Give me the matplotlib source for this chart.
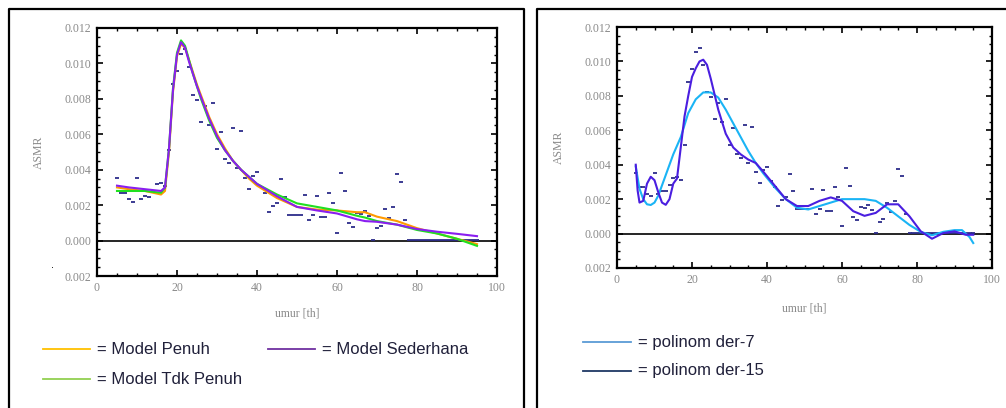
import matplotlib
matplotlib.use("Agg")
import matplotlib.pyplot as plt
from matplotlib.lines import Line2D
from matplotlib.ticker import MultipleLocator, FixedLocator

# data titik ASMR (umur 5..95)
umur = list(range(5, 96))
asmr = [0.00354, 0.0027, 0.0027, 0.00232, 0.00219, 0.00354, 0.00232, 0.0025, 0.00247, 0.00281,
        0.00322, 0.00326, 0.0031, 0.00514, 0.00882, 0.00956, 0.01055, 0.0108, 0.0098, 0.0082,
        0.00792, 0.00668, 0.00758, 0.0065, 0.00779, 0.00516, 0.00614, 0.00461, 0.0044, 0.00633,
        0.00409, 0.00617, 0.00356, 0.00292, 0.00367, 0.00388, 0.00304, 0.0027, 0.00163, 0.00195,
        0.0021, 0.00347, 0.00247, 0.00142, 0.00142, 0.00142, 0.00142, 0.0026, 0.00116, 0.00142,
        0.00254, 0.00134, 0.00134, 0.0027, 0.00211, 0.00044, 0.00382, 0.00279, 0.00097, 0.00078,
        0.00153, 0.0015, 0.00168, 0.00138, 0.00003, 0.0007, 0.00082, 0.00176, 0.00127, 0.00187,
        0.00373, 0.00332, 0.00116, 0.00002, 0.00002, 0.00002, 0.00002, 0.00002, 0.00002, 0.00002,
        0.00002, 0.00002, 0.00002, 0.00002, 0.00002, 0.00002, 0.00002, 0.00002, 0.00002, 0.00002,
        0.00002]

# model (panel kiri)
umur_model = [5, 8, 12, 16, 17, 18, 19, 20, 21, 22, 23, 24, 25, 26, 27, 28, 29, 30, 32, 34,
              36, 38, 40, 45, 50, 55, 60, 65, 67, 70, 75, 80, 85, 90, 95]
model_penuh = [0.0030, 0.0029, 0.0028, 0.0026, 0.0028, 0.0050, 0.0084, 0.0104, 0.0111, 0.0109,
               0.0102, 0.0095, 0.0088, 0.0082, 0.0076, 0.0070, 0.0065, 0.0060, 0.0052, 0.0045,
               0.0040, 0.0035, 0.0031, 0.0024, 0.0019, 0.00175, 0.0017, 0.0016, 0.0016, 0.00135,
               0.0011, 0.0007, 0.0004, 0.0001, -0.0002]
model_tdk_penuh = [0.0028, 0.0028, 0.0028, 0.0027, 0.0030, 0.0052, 0.0086, 0.0106, 0.0113, 0.0110,
                   0.0102, 0.0094, 0.0087, 0.0080, 0.0074, 0.0068, 0.0063, 0.0058, 0.0051, 0.0045,
                   0.0040, 0.0036, 0.0032, 0.0026, 0.0021, 0.0019, 0.0017, 0.0014, 0.0013, 0.0011,
                   0.0009, 0.0006, 0.0004, 0.0001, -0.0003]
model_sederhana = [0.0031, 0.0030, 0.0029, 0.0028, 0.0030, 0.0052, 0.0085, 0.0105, 0.0112, 0.0109,
                   0.0101, 0.0094, 0.0087, 0.0081, 0.0075, 0.0069, 0.0064, 0.0059, 0.0051, 0.0045,
                   0.0040, 0.0036, 0.0032, 0.0025, 0.0019, 0.0017, 0.00153, 0.0012, 0.0011, 0.00106,
                   0.0009, 0.00065, 0.0005, 0.00038, 0.00025]

# polinom (panel kanan)
umur_p15 = [5, 5.5, 6, 7, 8, 9, 10, 11, 12, 13, 14, 15, 16, 17, 18, 19, 20, 21, 22, 23, 24, 25,
            27, 29, 31, 33, 35, 37, 39, 42, 45, 48, 51, 54, 57, 60, 63, 66, 69, 72, 75, 78, 81,
            84, 87, 90, 93, 95]
polinom15 = [0.0040, 0.0025, 0.0018, 0.0019, 0.0029, 0.0033, 0.0031, 0.0024, 0.0018, 0.00167,
             0.0020, 0.0029, 0.0032, 0.0050, 0.0068, 0.0080, 0.0091, 0.0096, 0.0100, 0.0101,
             0.0098, 0.0090, 0.0072, 0.0058, 0.0050, 0.0046, 0.0043, 0.0041, 0.0036, 0.0028,
             0.0020, 0.0016, 0.0016, 0.0019, 0.0021, 0.0019, 0.0013, 0.00103, 0.0012, 0.0017,
             0.0017, 0.0010, 0.00013, -0.0003, 0.00003, 0.00013, -0.00007, -0.00007]
umur_p7 = [5, 6, 7, 8, 9, 10, 11, 12, 13, 15, 17, 19, 21, 23, 25, 27, 29, 31, 33, 35, 37, 39,
           42, 45, 48, 51, 54, 57, 60, 63, 66, 69, 72, 75, 78, 81, 84, 87, 90, 92, 94, 95]
polinom7 = [0.0039, 0.0026, 0.0020, 0.0017, 0.00166, 0.0018, 0.0022, 0.0028, 0.0034, 0.0046,
            0.0056, 0.0070, 0.0078, 0.0082, 0.0082, 0.0079, 0.0072, 0.0064, 0.0056, 0.0048,
            0.0041, 0.0035, 0.0027, 0.0020, 0.0015, 0.0014, 0.0016, 0.0018, 0.0020, 0.0020,
            0.0020, 0.0019, 0.0015, 0.0010, 0.0005, 0.0001, -0.0001, 0.0001, 0.0002, 0.0002,
            -0.0002, -0.00055]

xticks = [0, 20, 40, 60, 80, 100]
yticks = [-0.002, 0.0, 0.002, 0.004, 0.006, 0.008, 0.010, 0.012]
ytick_labels = ['0.002', '0.000', '0.002', '0.004', '0.006', '0.008', '0.010', '0.012']

W, H = 1006, 408
fig = plt.figure(figsize=(W / 100, H / 100), dpi=100)


def px_box(l, t, r, b):
    return [l / W, 1 - b / H, (r - l) / W, (b - t) / H]


def siapkan_axes(ax):
    ax.set_xlim(0, 100)
    ax.set_ylim(-0.002, 0.012)
    ax.xaxis.set_major_locator(FixedLocator(xticks))
    ax.xaxis.set_minor_locator(MultipleLocator(5))
    ax.yaxis.set_major_locator(FixedLocator(yticks))
    ax.yaxis.set_minor_locator(MultipleLocator(0.0005))
    ax.set_xticklabels([str(t) for t in xticks])
    ax.set_yticklabels(ytick_labels)
    ax.tick_params(which='both', direction='in', top=True, right=True, color='black')
    ax.tick_params(which='major', length=4, width=1.2, labelsize=8.5, labelcolor='#8a8a8a', pad=4)
    ax.tick_params(which='minor', length=2, width=1.0)
    for lbl in ax.get_xticklabels() + ax.get_yticklabels():
        lbl.set_family('Liberation Serif')
    for sp in ax.spines.values():
        sp.set_linewidth(1.6)
    ax.axhline(0, color='black', lw=1.2, zorder=1)
    ax.plot(umur, asmr, linestyle='none', marker='_', markersize=3, mew=1.3,
            color='#2c2c8a', zorder=2)
    ax.set_xlabel('umur [th]', fontsize=8.5, color='#8a8a8a', family='Liberation Serif')
    ax.set_ylabel('ASMR', fontsize=8.5, color='#8a8a8a', family='Liberation Serif')


# panel kiri
ax1 = fig.add_axes(px_box(97, 28, 497, 276))
siapkan_axes(ax1)
ax1.plot(umur_model, model_penuh, color='#ff9a00', lw=1.5, zorder=3)
ax1.plot(umur_model, model_tdk_penuh, color='#20e020', lw=1.5, zorder=3)
ax1.plot(umur_model, model_sederhana, color='#8a1ef0', lw=1.5, zorder=4)
ax1.xaxis.labelpad = 10
ax1.yaxis.labelpad = 14

# panel kanan
ax2 = fig.add_axes(px_box(617, 27, 992, 268))
siapkan_axes(ax2)
ax2.plot(umur_p7, polinom7, color='#1ab4f5', lw=1.5, zorder=3)
ax2.plot(umur_p15, polinom15, color='#4a1ee0', lw=1.5, zorder=4)
ax2.xaxis.labelpad = 12
ax2.yaxis.labelpad = 14

# bingkai panel
for xs, ys in [([9, 9, 524, 524], [408, 9, 9, 408]), ([537, 537, 1006], [408, 9, 9])]:
    fig.add_artist(Line2D([x / W for x in xs], [1 - y / H for y in ys], color='black', lw=1.6))

fig.text(52 / W, 1 - 268 / H, '·', fontsize=7, color='black', ha='center', va='center')

# legenda
legenda = [
    (43, 90, 349, '#ffc000', '= Model Penuh'),
    (268, 315, 349, '#7030a0', '= Model Sederhana'),
    (43, 90, 379, '#92d050', '= Model Tdk Penuh'),
    (583, 631, 342, '#5b9bd5', '= polinom der-7'),
    (583, 631, 371, '#1f3864', '= polinom der-15'),
]
for x0, x1, y, warna, teks in legenda:
    fig.add_artist(Line2D([x0 / W, x1 / W], [1 - y / H, 1 - y / H], color=warna, lw=1.3))
    fig.text((x1 + 7) / W, 1 - y / H, teks, fontsize=12, color='#20203a',
             family='Liberation Sans', va='center', ha='left')

fig.savefig('out.png', dpi=100)
